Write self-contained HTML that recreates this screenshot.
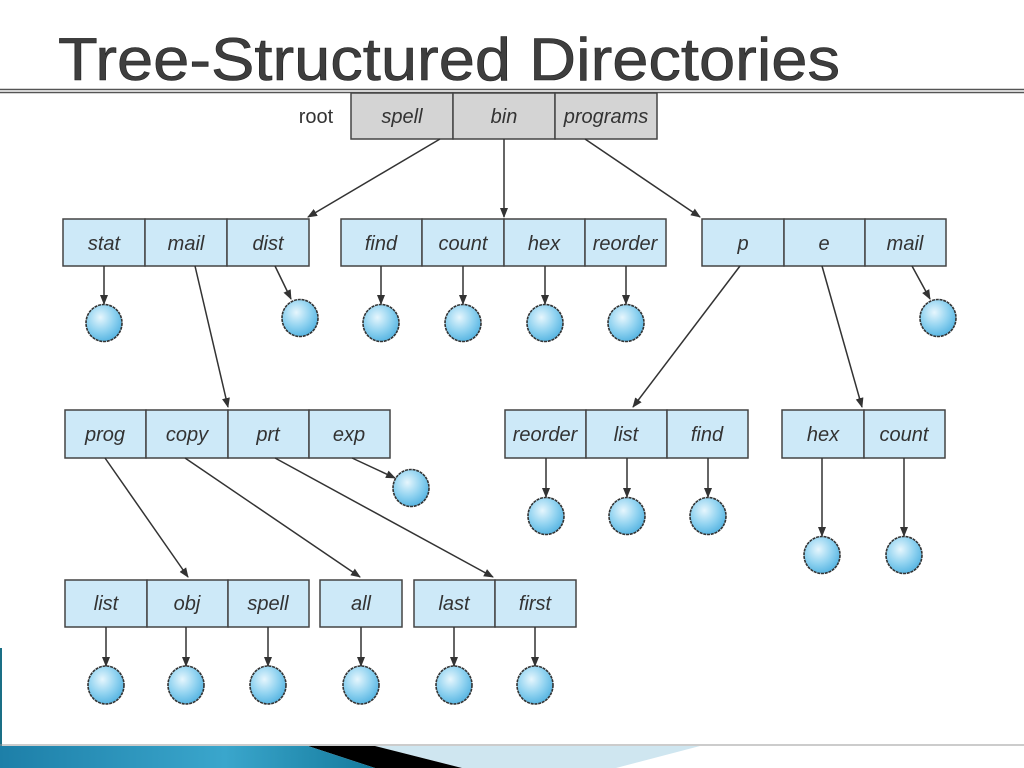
<!DOCTYPE html>
<html><head><meta charset="utf-8"><style>
html,body{margin:0;padding:0;background:#fff;}
body{width:1024px;height:768px;overflow:hidden;position:relative;}
svg{position:absolute;left:0;top:0;}
</style></head><body>
<svg width="1024" height="768" viewBox="0 0 1024 768" xmlns="http://www.w3.org/2000/svg">
<defs>
<radialGradient id="g" cx="40%" cy="35%" r="65%">
<stop offset="0" stop-color="#e6f6fd"/><stop offset="0.6" stop-color="#8fd2f0"/><stop offset="1" stop-color="#5ab6e2"/>
</radialGradient>
<marker id="a" markerWidth="10" markerHeight="10" refX="9" refY="5" orient="auto" markerUnits="userSpaceOnUse">
<path d="M0,1 L10,5 L0,9 Z" fill="#333"/>
</marker>
<linearGradient id="bar" x1="0" x2="1"><stop offset="0" stop-color="#1d7fa8"/><stop offset="0.6" stop-color="#3aa6cc"/><stop offset="1" stop-color="#147a9c"/></linearGradient>
</defs>
<text x="58" y="80" font-family="Liberation Sans, sans-serif" font-size="60" fill="#3e3e3e" stroke="#222" stroke-width="0.6" textLength="782" lengthAdjust="spacingAndGlyphs">Tree-Structured Directories</text>
<line x1="0" y1="89.5" x2="1024" y2="89.5" stroke="#555" stroke-width="1.5"/>
<line x1="0" y1="92.5" x2="1024" y2="92.5" stroke="#555" stroke-width="1.5"/>

<g font-family="Liberation Sans, sans-serif" font-size="20" font-style="italic" fill="#333" text-anchor="middle" stroke="#444" stroke-width="1.5">
<g fill="#d4d4d4"><rect x="351" y="93" width="102" height="46"/><rect x="453" y="93" width="102" height="46"/><rect x="555" y="93" width="102" height="46"/></g>
<g fill="#cde9f8">
<rect x="63" y="219" width="82" height="47"/><rect x="145" y="219" width="82" height="47"/><rect x="227" y="219" width="82" height="47"/>
<rect x="341" y="219" width="81" height="47"/><rect x="422" y="219" width="82" height="47"/><rect x="504" y="219" width="81" height="47"/><rect x="585" y="219" width="81" height="47"/>
<rect x="702" y="219" width="82" height="47"/><rect x="784" y="219" width="81" height="47"/><rect x="865" y="219" width="81" height="47"/>
<rect x="65" y="410" width="81" height="48"/><rect x="146" y="410" width="82" height="48"/><rect x="228" y="410" width="81" height="48"/><rect x="309" y="410" width="81" height="48"/>
<rect x="505" y="410" width="81" height="48"/><rect x="586" y="410" width="81" height="48"/><rect x="667" y="410" width="81" height="48"/>
<rect x="782" y="410" width="82" height="48"/><rect x="864" y="410" width="81" height="48"/>
<rect x="65" y="580" width="82" height="47"/><rect x="147" y="580" width="81" height="47"/><rect x="228" y="580" width="81" height="47"/>
<rect x="320" y="580" width="82" height="47"/>
<rect x="414" y="580" width="81" height="47"/><rect x="495" y="580" width="81" height="47"/>
</g>
<g stroke="none">
<text x="316" y="123" font-style="normal">root</text>
<text x="402" y="123">spell</text><text x="504" y="123">bin</text><text x="606" y="123">programs</text>
<text x="104" y="250">stat</text><text x="186" y="250">mail</text><text x="268" y="250">dist</text>
<text x="381" y="250">find</text><text x="463" y="250">count</text><text x="544" y="250">hex</text><text x="625" y="250">reorder</text>
<text x="743" y="250">p</text><text x="824" y="250">e</text><text x="905" y="250">mail</text>
<text x="105" y="441">prog</text><text x="187" y="441">copy</text><text x="268" y="441">prt</text><text x="349" y="441">exp</text>
<text x="545" y="441">reorder</text><text x="626" y="441">list</text><text x="707" y="441">find</text>
<text x="823" y="441">hex</text><text x="904" y="441">count</text>
<text x="106" y="610">list</text><text x="187" y="610">obj</text><text x="268" y="610">spell</text>
<text x="361" y="610">all</text><text x="454" y="610">last</text><text x="535" y="610">first</text>
</g>
</g>

<g stroke="#333" stroke-width="1.5" marker-end="url(#a)" fill="none">
<line x1="440" y1="139" x2="308" y2="217"/>
<line x1="504" y1="139" x2="504" y2="217"/>
<line x1="585" y1="139" x2="700" y2="217"/>
<line x1="104" y1="266" x2="104" y2="304"/>
<line x1="195" y1="266" x2="228" y2="407"/>
<line x1="275" y1="266" x2="291" y2="299"/>
<line x1="381" y1="266" x2="381" y2="304"/>
<line x1="463" y1="266" x2="463" y2="304"/>
<line x1="545" y1="266" x2="545" y2="304"/>
<line x1="626" y1="266" x2="626" y2="304"/>
<line x1="740" y1="266" x2="633" y2="407"/>
<line x1="822" y1="266" x2="862" y2="407"/>
<line x1="912" y1="266" x2="930" y2="299"/>
<line x1="105" y1="458" x2="188" y2="577"/>
<line x1="185" y1="458" x2="360" y2="577"/>
<line x1="275" y1="458" x2="493" y2="577"/>
<line x1="352" y1="458" x2="395" y2="478"/>
<line x1="546" y1="458" x2="546" y2="497"/>
<line x1="627" y1="458" x2="627" y2="497"/>
<line x1="708" y1="458" x2="708" y2="497"/>
<line x1="822" y1="458" x2="822" y2="536"/>
<line x1="904" y1="458" x2="904" y2="536"/>
<line x1="106" y1="627" x2="106" y2="666"/>
<line x1="186" y1="627" x2="186" y2="666"/>
<line x1="268" y1="627" x2="268" y2="666"/>
<line x1="361" y1="627" x2="361" y2="666"/>
<line x1="454" y1="627" x2="454" y2="666"/>
<line x1="535" y1="627" x2="535" y2="666"/>
</g>

<g fill="url(#g)" stroke="#333" stroke-width="1.6" stroke-dasharray="3 0.8">
<ellipse cx="104" cy="323" rx="18" ry="18.5"/>
<ellipse cx="300" cy="318" rx="18" ry="18.5"/>
<ellipse cx="381" cy="323" rx="18" ry="18.5"/>
<ellipse cx="463" cy="323" rx="18" ry="18.5"/>
<ellipse cx="545" cy="323" rx="18" ry="18.5"/>
<ellipse cx="626" cy="323" rx="18" ry="18.5"/>
<ellipse cx="938" cy="318" rx="18" ry="18.5"/>
<ellipse cx="411" cy="488" rx="18" ry="18.5"/>
<ellipse cx="546" cy="516" rx="18" ry="18.5"/>
<ellipse cx="627" cy="516" rx="18" ry="18.5"/>
<ellipse cx="708" cy="516" rx="18" ry="18.5"/>
<ellipse cx="822" cy="555" rx="18" ry="18.5"/>
<ellipse cx="904" cy="555" rx="18" ry="18.5"/>
<ellipse cx="106" cy="685" rx="18" ry="19"/>
<ellipse cx="186" cy="685" rx="18" ry="19"/>
<ellipse cx="268" cy="685" rx="18" ry="19"/>
<ellipse cx="361" cy="685" rx="18" ry="19"/>
<ellipse cx="454" cy="685" rx="18" ry="19"/>
<ellipse cx="535" cy="685" rx="18" ry="19"/>
</g>

<line x1="1" y1="648" x2="1" y2="746" stroke="#1a6f86" stroke-width="2"/>
<line x1="0" y1="745" x2="1024" y2="745" stroke="#999" stroke-width="1"/>
<polygon points="375,746 700,746 616,768 462,768" fill="#cfe6f0"/>
<polygon points="308,746 375,746 462,768 375,768" fill="#000"/>
<polygon points="0,746 308,746 375,768 0,768" fill="url(#bar)"/>
</svg>
</body></html>
